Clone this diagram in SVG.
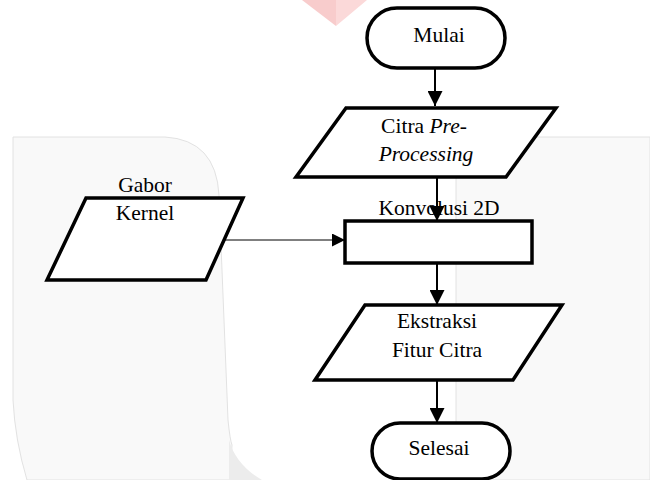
<svg xmlns="http://www.w3.org/2000/svg" width="650" height="480" viewBox="0 0 650 480">
<defs>
<style>
.shape{fill:#fff;stroke:#000;stroke-width:3.5;stroke-linejoin:miter}
.t{font-family:"Liberation Serif","Times New Roman",serif;font-size:21.5px;fill:#000;text-anchor:middle}
.i{font-style:italic}
.c{stroke:#000;stroke-width:2;fill:none}
.thin{stroke:#000;stroke-width:1;fill:none}
.wm{fill:#f9f9f9;stroke:#e2e2e2;stroke-width:1}
</style>
<marker id="ah" markerWidth="15" markerHeight="15" refX="15" refY="7.5" orient="auto" markerUnits="userSpaceOnUse">
<path d="M0,0 L15,7.5 L0,15 Z" fill="#000"/>
</marker>
<marker id="ah2" markerWidth="13" markerHeight="13" refX="13" refY="6.5" orient="auto" markerUnits="userSpaceOnUse">
<path d="M0,0 L13,6.5 L0,13 Z" fill="#000"/>
</marker>
</defs>
<rect width="650" height="480" fill="#fff"/>
<g id="watermark">
<path class="wm" d="M27,480 Q15,440 13,400 L13,137 L165,137 Q216,140 219,195 L228,420 Q230,440 232,445 L230,480 Z"/>
<path d="M229,440 Q236,465 262,480 L229,480 Z" fill="#ececec"/>
<path class="wm" d="M650,137 L480,137 Q457,140 456,180 L456,480 L650,480 Z"/>
<path d="M302,0 L336,0 L336,26 Z" fill="#f8cccc"/>
<path d="M336,0 L367,0 L336,26 Z" fill="#fbd9d9"/>
</g>
<g id="connectors">
<line class="c" x1="435" y1="68" x2="435" y2="106" marker-end="url(#ah)"/>
<line class="c" x1="437" y1="178" x2="437" y2="221" marker-end="url(#ah)"/>
<line class="thin" x1="224" y1="240" x2="345" y2="240" marker-end="url(#ah2)"/>
<line class="c" x1="437" y1="263" x2="437" y2="305" marker-end="url(#ah)"/>
<line class="c" x1="437" y1="380" x2="437" y2="423" marker-end="url(#ah)"/>
</g>
<g id="mulai">
<rect class="shape" x="367" y="8" width="138" height="60" rx="30" ry="30"/>
<text class="t" x="439" y="42">Mulai</text>
</g>
<g id="citra">
<polygon class="shape" points="346,108 556,108 506,177 296,177"/>
<text class="t" x="424" y="133">Citra <tspan class="i">Pre-</tspan></text>
<text class="t i" x="426" y="161">Processing</text>
</g>
<g id="gabor">
<polygon class="shape" points="86,198 243,198 206,280 47,280"/>
<text class="t" x="145" y="192">Gabor</text>
<text class="t" x="145" y="220">Kernel</text>
</g>
<g id="konvolusi">
<rect class="shape" x="345" y="221" width="187" height="42"/>
<text class="t" x="439" y="215">Konvolusi 2D</text>
</g>
<g id="ekstraksi">
<polygon class="shape" points="365,305 562,305 513,380 315,380"/>
<text class="t" x="437" y="328">Ekstraksi</text>
<text class="t" x="437" y="357">Fitur Citra</text>
</g>
<g id="selesai">
<rect class="shape" x="372" y="423" width="138" height="56" rx="28" ry="28"/>
<text class="t" x="439" y="455">Selesai</text>
</g>
</svg>
